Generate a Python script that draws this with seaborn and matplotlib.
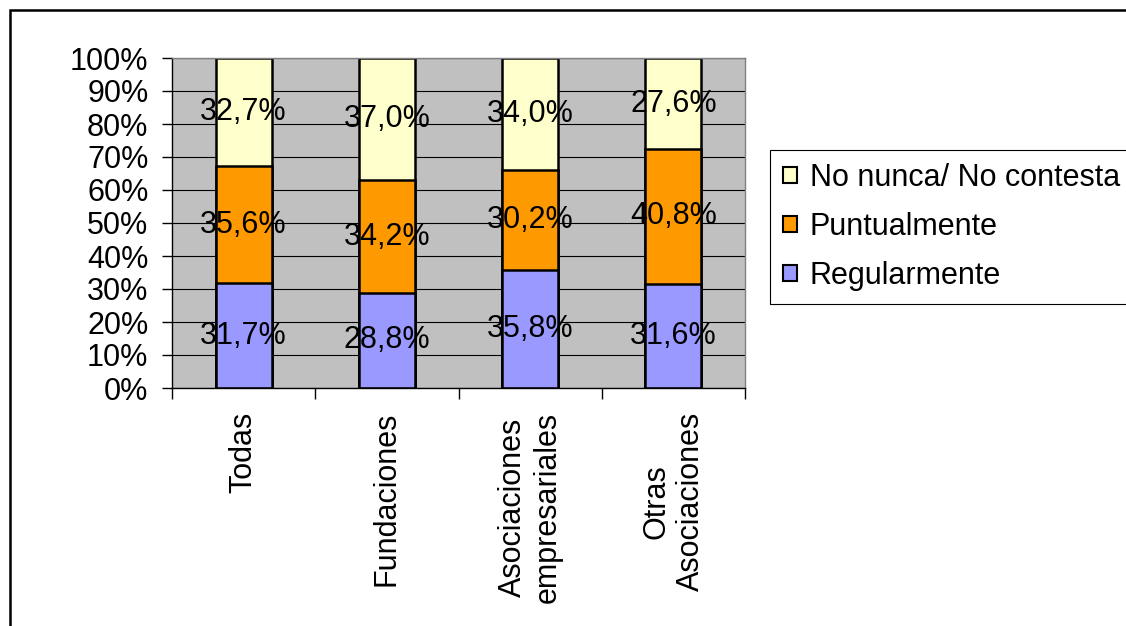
import matplotlib
matplotlib.use("Agg")
import matplotlib.pyplot as plt
import seaborn as sns
import pandas as pd
from matplotlib.patches import Rectangle, Patch

# Data (percent of each group)
categories = ["Todas", "Fundaciones", "Asociaciones\nempresariales", "Otras\nAsociaciones"]
regularmente = [31.7, 28.8, 35.8, 31.6]
puntualmente = [35.6, 34.2, 30.2, 40.8]
no_nunca = [32.7, 37.0, 34.0, 27.6]

series_names = ["Regularmente", "Puntualmente", "No nunca/ No contesta"]
series_colors = ["#9999FF", "#FF9900", "#FFFFCC"]

plt.rcParams["font.family"] = ["Liberation Sans", "DejaVu Sans"]
FS = 22

df = pd.DataFrame({
    "categoria": categories,
    "Regularmente": regularmente,
    "Puntualmente": puntualmente,
    "No nunca": no_nunca,
})
# cumulative tops for stacking
df["top1"] = df["Regularmente"]
df["top2"] = df["top1"] + df["Puntualmente"]
df["top3"] = df["top2"] + df["No nunca"]

W, H = 1126, 626
fig = plt.figure(figsize=(W / 100, H / 100), dpi=100)
ax = fig.add_axes([172 / W, 1 - 388 / H, (745 - 172) / W, (388 - 58) / H])
ax.set_facecolor("#C0C0C0")
ax.set_axisbelow(True)

# draw the tallest stack first so the lower segments sit on top
for col, color in zip(["top3", "top2", "top1"], series_colors[::-1]):
    sns.barplot(data=df, x="categoria", y=col, color=color, saturation=1,
                width=0.39, edgecolor="black", linewidth=1.8,
                errorbar=None, ax=ax, zorder=2)

# segment value labels
segments = [regularmente, puntualmente, no_nunca]
for i in range(len(categories)):
    base = 0.0
    for vals in segments:
        v = vals[i]
        ax.text(i, base + v / 2, f"{v:.1f}%".replace(".", ","),
                ha="center", va="center", fontsize=FS, color="black", zorder=5)
        base += v

ax.set_xlim(-0.5, len(categories) - 0.5)
ax.set_ylim(0, 100)
ax.set_xlabel("")
ax.set_ylabel("")

ax.set_yticks(range(0, 101, 10))
ax.set_yticklabels([f"{v}%" for v in range(0, 101, 10)], fontsize=FS)
ax.yaxis.grid(True, color="black", linewidth=0.8)
ax.xaxis.grid(False)
ax.tick_params(axis="y", length=7, width=1, color="black", pad=10, left=True)

ax.set_xticks(range(len(categories)))
ax.set_xticklabels(categories, rotation=90, fontsize=FS, multialignment="center")
ax.tick_params(axis="x", which="major", length=0, pad=17)
ax.set_xticks([i - 0.5 for i in range(len(categories) + 1)], minor=True)
ax.tick_params(axis="x", which="minor", length=8, width=1, color="black",
               direction="out", bottom=True)

for side in ["top", "right"]:
    ax.spines[side].set_color("#808080")
    ax.spines[side].set_linewidth(1)
for side in ["left", "bottom"]:
    ax.spines[side].set_color("black")
    ax.spines[side].set_linewidth(1)

handles = [Patch(facecolor=c, edgecolor="black", linewidth=1.5, label=n)
           for n, c in zip(series_names[::-1], series_colors[::-1])]
leg = fig.legend(handles=handles, loc="upper left",
                 bbox_to_anchor=(770 / W, 1 - 150 / H), bbox_transform=fig.transFigure,
                 frameon=True, fancybox=False, framealpha=1, edgecolor="black",
                 fontsize=FS, handlelength=0.46, handleheight=0.46,
                 handletextpad=0.42, borderpad=0.42, labelspacing=0.62,
                 borderaxespad=0)
leg.get_frame().set_linewidth(0.8)

# outer chart border
fig.add_artist(Rectangle((9.5 / W, -0.1), 1.2, 1 - 9.5 / H + 0.1,
                         transform=fig.transFigure, fill=False,
                         edgecolor="black", linewidth=1.8))

fig.savefig("out.png", dpi=100)
